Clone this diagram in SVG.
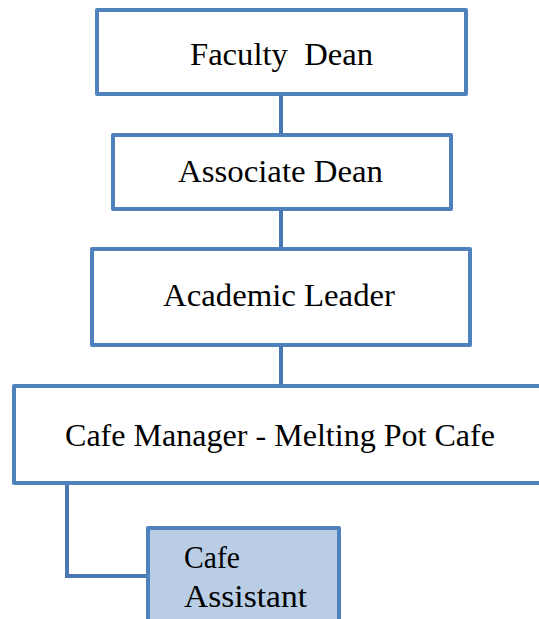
<svg xmlns="http://www.w3.org/2000/svg" width="539" height="619" viewBox="0 0 539 619">
<style>
.box{fill:#ffffff;stroke:#4F81BD;stroke-width:4;stroke-linejoin:round}
.sub{fill:#B9CDE5;stroke:#4F81BD;stroke-width:4;stroke-linejoin:round}
.lbl{font-family:"Liberation Serif","DejaVu Serif",serif;font-size:32px;fill:#000000}
.conn{fill:none;stroke:#4A78B3;stroke-width:4}
</style>
<rect width="539" height="619" fill="#ffffff"/>
<g id="connectors">
<line class="conn" x1="281" y1="96" x2="281" y2="135"/>
<line class="conn" x1="281" y1="209" x2="281" y2="249"/>
<line class="conn" x1="281" y1="345" x2="281" y2="386"/>
<polyline class="conn" points="67,483 67,576 148,576"/>
</g>
<g id="faculty-dean">
<rect class="box" x="97" y="10" width="369" height="84"/>
<text class="lbl" x="190" y="65" textLength="183" lengthAdjust="spacingAndGlyphs" xml:space="preserve">Faculty  Dean</text>
</g>
<g id="associate-dean">
<rect class="box" x="113" y="135" width="338" height="74"/>
<text class="lbl" x="178" y="182" textLength="205" lengthAdjust="spacingAndGlyphs">Associate Dean</text>
</g>
<g id="academic-leader">
<rect class="box" x="92" y="249" width="378" height="96"/>
<text class="lbl" x="163" y="306" textLength="232" lengthAdjust="spacingAndGlyphs">Academic Leader</text>
</g>
<g id="cafe-manager">
<rect class="box" x="14" y="386" width="532" height="97"/>
<text class="lbl" x="65" y="446" textLength="430" lengthAdjust="spacingAndGlyphs">Cafe Manager - Melting Pot Cafe</text>
</g>
<g id="cafe-assistant">
<rect class="sub" x="148" y="528" width="191" height="100"/>
<text class="lbl" x="184" y="568" textLength="56" lengthAdjust="spacingAndGlyphs">Cafe</text>
<text class="lbl" x="184" y="607" textLength="123" lengthAdjust="spacingAndGlyphs">Assistant</text>
</g>
</svg>
